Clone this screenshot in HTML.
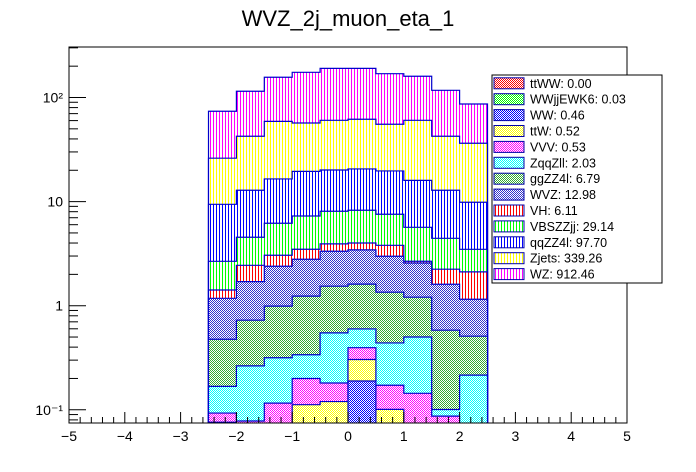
<!DOCTYPE html>
<html><head><meta charset="utf-8"><style>
html,body{margin:0;padding:0;background:#fff;overflow:hidden;width:696px;height:472px;}
svg{display:block;font-family:"Liberation Sans",Arial,sans-serif;}
</style></head><body>
<svg id="chart" width="696" height="472" viewBox="0 0 696 472" xmlns="http://www.w3.org/2000/svg">
<defs>
<clipPath id="plotclip"><rect x="69" y="47" width="558" height="376"/></clipPath>
</defs>
<rect width="696" height="472" fill="#fff"/>
<text x="348" y="26" font-size="22" text-anchor="middle">WVZ_2j_muon_eta_1</text>
<g id="bars" clip-path="url(#plotclip)"></g>
<g id="axes"></g>
<g id="legend"></g>
</svg>
<script>
const binEdges=[-2.5,-2,-1.5,-1,-0.5,0,0.5,1,1.5,2,2.5];
const names=["ttWW","WWjjEWK6","WW","ttW","VVV","ZqqZll","ggZZ4l","WVZ","VH","VBSZZjj","qqZZ4l","Zjets","WZ"];
const legendLabels=["ttWW: 0.00","WWjjEWK6: 0.03","WW: 0.46","ttW: 0.52","VVV: 0.53","ZqqZll: 2.03","ggZZ4l: 6.79","WVZ: 12.98","VH: 6.11","VBSZZjj: 29.14","qqZZ4l: 97.70","Zjets: 339.26","WZ: 912.46"];
const ttWW=[0,0,0,0,0,0,0,0,0,0];
const WWjjEWK6=[0,0.002,0.003,0.004,0.005,0.005,0.004,0.003,0.002,0.001];
const WW=[0.01,0.01,0.02,0.03,0.05,0.184,0.03,0.02,0.01,0.01];
const ttW=[0.066,0.03,0.03,0.078,0.065,0.115,0.067,0.03,0.03,0.02];
const VVV=[0.017,0.036,0.063,0.088,0.061,0.091,0.071,0.091,0.045,0.01];
const ZqqZll=[0.075,0.186,0.2,0.138,0.367,0.203,0.267,0.356,0.0136,0.1745];
const ggZZ4l=[0.308,0.462,0.674,0.897,0.992,1.013,0.91,0.707,0.481,0.294];
const WVZ=[0.702,0.976,1.403,1.559,1.795,1.824,1.635,1.366,1.026,0.644];
const VH=[0.237,0.74,0.66,0.69,0.59,0.57,0.82,0.10,0.634,0.958];
const VBSZZjj=[1.255,2.10,3.14,3.79,4.15,4.25,3.75,2.99,2.20,1.37];
const qqZZ4l=[6.75,8.31,10.31,12.23,12.03,12.35,12.15,10.34,8.41,6.37];
const Zjets=[16.7,29.6,42.5,37.4,40.3,41.2,35.6,44.4,29.6,26.5];
const WZ=[47.6,72.4,97.4,117.7,130.2,128.8,114,99.5,74.8,50.3];
const xTicks=[-5,-4,-3,-2,-1,0,1,2,3,4,5];
const yTickVals=[0.1,1,10,100];
const yTickLabels=["10\u207B\u00B9","1","10","10\u00B2"];

const series=[ttWW,WWjjEWK6,WW,ttW,VVV,ZqqZll,ggZZ4l,WVZ,VH,VBSZZjj,qqZZ4l,Zjets,WZ];
const colors=["#ff0000","#00ff00","#0000ff","#ffff00","#ff00ff","#00ffff","#33aa33","#3333cc","#ff0000","#00ff00","#0000ff","#ffff00","#ff00ff"];
const hatched=[0,0,0,0,0,0,0,0,1,1,1,1,1];
const NS="http://www.w3.org/2000/svg";
const X0=69,X1=627,Y0=47,Y1=423;
function xs(v){return X0+(v+5)/10*(X1-X0);}
function ys(v){if(v<=0)return Y1+2;return Math.min(Y1+2,305.7-104.1*Math.log10(v));}
function mk(tag,attrs,parent){const e=document.createElementNS(NS,tag);for(const k in attrs)e.setAttribute(k,attrs[k]);parent.appendChild(e);return e;}
const svg=document.getElementById('chart');
const defs=svg.querySelector('defs');
colors.forEach((c,i)=>{
  const p=mk('pattern',{id:'pat'+i,patternUnits:'userSpaceOnUse',width:hatched[i]?3:2,height:2},defs);
  mk('rect',{width:hatched[i]?3:2,height:2,fill:'#fff'},p);
  if(hatched[i]){mk('rect',{x:0,y:0,width:1,height:2,fill:c},p);}
  else{mk('rect',{x:0,y:0,width:1,height:1,fill:c},p);mk('rect',{x:1,y:1,width:1,height:1,fill:c},p);}
});
const cum=[];let run=new Array(10).fill(0);
series.forEach(s=>{run=run.map((v,i)=>v+s[i]);cum.push(run.slice());});
const bars=document.getElementById('bars');
for(let k=series.length-1;k>=0;k--){
  const g=mk('g',{},bars);
  
  
  let d='M'+xs(binEdges[0])+' '+(Y1+2);
  for(let i=0;i<10;i++){const y=ys(cum[k][i]);d+=' L'+xs(binEdges[i])+' '+y+' L'+xs(binEdges[i+1])+' '+y;}
  d+=' L'+xs(binEdges[10])+' '+(Y1+2)+' Z';
  mk('path',{d:d,fill:'url(#pat'+k+')',stroke:'#0000cc','stroke-width':1.2},g);
}
const axes=document.getElementById('axes');
const frame=mk('rect',{x:X0,y:Y0,width:X1-X0,height:Y1-Y0,fill:'none',stroke:'#000','stroke-width':1},axes);


for(let t=-5;t<=5.001;t+=0.2){const x=xs(t);const major=Math.abs(t-Math.round(t))<1e-6;mk('line',{x1:x,x2:x,y1:Y1,y2:Y1-(major?11:6),stroke:'#000'},axes);}
xTicks.forEach(t=>{const tx=mk('text',{x:xs(t),y:441,'font-size':14,'text-anchor':'middle'},axes);tx.textContent=(t<0?'\u2212'+(-t):t);

});
for(let e=-2;e<=2;e++){for(let m=1;m<=9;m++){const v=m*Math.pow(10,e);const y=305.7-104.1*Math.log10(v);if(y<Y0||y>Y1)continue;mk('line',{x1:X0,x2:X0+(m==1?17:9),y1:y,y2:y,stroke:'#000'},axes);}}
yTickVals.forEach((v,i)=>{const tx=mk('text',{x:X0-6,y:ys(v)+5,'font-size':14,'text-anchor':'end'},axes);tx.textContent=yTickLabels[i];

});
const leg=document.getElementById('legend');


mk('rect',{x:492,y:75,width:170,height:208,fill:'#fff',stroke:'#000','stroke-width':1},leg);
legendLabels.forEach((lab,i)=>{
  const cy=83.3+i*15.9;
  const g=mk('g',{},leg);
  
  
  mk('rect',{x:494,y:cy-5.5,width:30,height:11,fill:'url(#pat'+i+')',stroke:'#0000aa','stroke-width':1},g);
  const t=mk('text',{x:530,y:cy+4.5,'font-size':12.5},g);t.textContent=lab;
});
</script>
</body></html>
